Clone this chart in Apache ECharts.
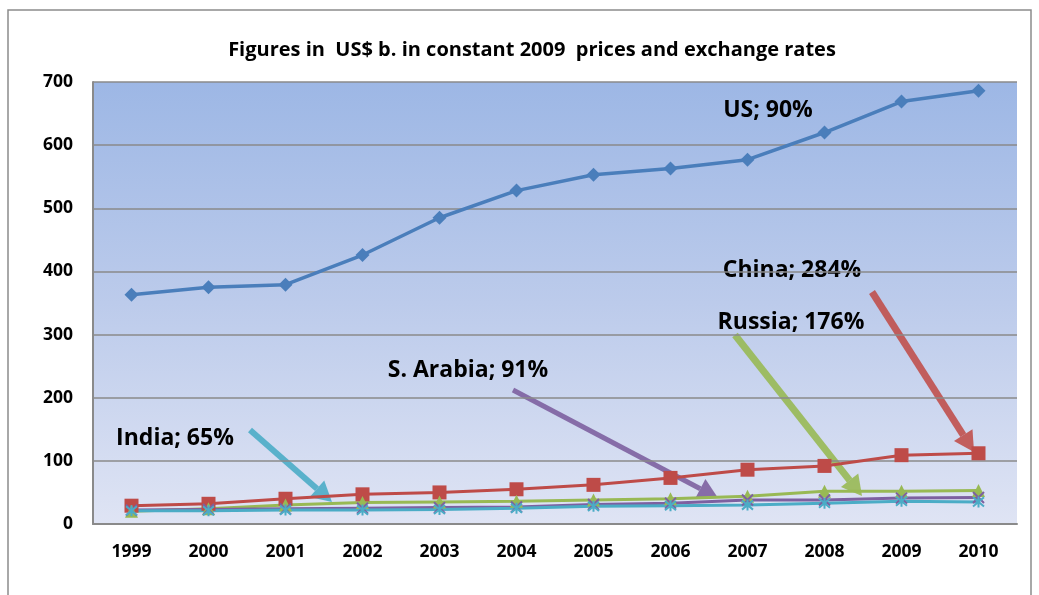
<!DOCTYPE html>
<html lang="en">
<head>
    <meta charset="utf-8">
    <title>Military spending 1999-2010</title>
    <script src="https://cdn.jsdelivr.net/npm/echarts@6/dist/echarts.min.js"></script>
    <style>
        html, body { margin: 0; padding: 0; background: #fff; }
        #chart { width: 1039px; height: 595px; }
    </style>
</head>
<body>
<div id="chart"></div>
<script type="text/javascript">
    // data (US$ b.)
    var years = ['1999', '2000', '2001', '2002', '2003', '2004', '2005', '2006', '2007', '2008', '2009', '2010'];
    var usValues = [363, 375, 379, 426, 485, 528, 553, 563, 577, 620, 669, 686];
    var chinaValues = [29, 32, 40, 47, 50, 55, 62, 73, 86, 92, 109, 112];
    var russiaValues = [20, 24, 30, 34, 35, 36, 38, 40, 44, 52, 52, 53];
    var arabiaValues = [22, 23, 24, 25, 26, 27, 31, 33, 38, 38, 41, 42];
    var indiaValues = [21, 21, 22, 22, 23, 25, 28, 29, 30, 33, 36, 35];
    var yTicks = [0, 100, 200, 300, 400, 500, 600, 700];

    var FONT = '"Open Sans", "Liberation Sans", sans-serif';
    var xMark = 'path://M0,0L10,10M10,0L0,10';
    var starMark = 'path://M0,0L10,10M10,0L0,10M5,-1L5,11';

    // annotation arrow: shaft + filled head
    function arrow(x1, y1, x2, y2, color, w) {
        var dx = x2 - x1, dy = y2 - y1;
        var len = Math.sqrt(dx * dx + dy * dy);
        var ux = dx / len, uy = dy / len;
        var head = 20, half = 11;
        var bx = x2 - ux * head, by = y2 - uy * head;
        return {
            type: 'group',
            children: [{
                type: 'line',
                shape: {x1: x1, y1: y1, x2: bx, y2: by},
                style: {stroke: color, lineWidth: w, opacity: 0.9}
            }, {
                type: 'polygon',
                shape: {points: [[x2, y2], [bx - uy * half, by + ux * half], [bx + uy * half, by - ux * half]]},
                style: {fill: color, opacity: 0.9}
            }]
        };
    }

    function label(text, cx, cy) {
        return {
            type: 'text',
            x: cx, y: cy,
            style: {
                text: text, fill: '#000', font: 'bold 23px ' + FONT,
                align: 'center', verticalAlign: 'middle'
            }
        };
    }

    function lineSeries(name, data, color, symbol, size, stroke, width) {
        return {
            name: name,
            type: 'line',
            data: data,
            symbol: symbol,
            symbolSize: size,
            showAllSymbol: true,
            lineStyle: {color: color, width: width || 3},
            itemStyle: {color: color, borderColor: color, borderWidth: stroke ? 2 : 0},
            z: 3
        };
    }

    var myChart = echarts.init(document.getElementById('chart'));
    var option = {
        backgroundColor: '#fff',
        animation: false,
        title: {
            text: 'Figures in  US$ b. in constant 2009  prices and exchange rates',
            left: 527, top: 35,
            textAlign: 'center',
            textStyle: {fontFamily: FONT, fontWeight: 'bold', fontSize: 20, color: '#000'}
        },
        grid: {
            left: 93, right: 22, top: 82, bottom: 71,
            show: true,
            borderWidth: 0,
            backgroundColor: {
                type: 'linear', x: 0, y: 0, x2: 0, y2: 1,
                colorStops: [{offset: 0, color: '#9db7e5'}, {offset: 0.5, color: '#bccbeb'}, {offset: 1, color: '#dfe4f4'}]
            }
        },
        xAxis: {
            type: 'category',
            data: years,
            boundaryGap: true,
            axisLine: {lineStyle: {color: '#8a8a8a', width: 2}},
            axisTick: {show: false},
            axisLabel: {
                margin: 19, color: '#000', fontFamily: FONT,
                fontWeight: 'bold', fontSize: 17.5
            }
        },
        yAxis: {
            type: 'value',
            min: yTicks[0], max: yTicks[yTicks.length - 1], interval: 100,
            axisLine: {show: true, lineStyle: {color: '#8a8a8a', width: 2}},
            axisTick: {show: false},
            splitLine: {lineStyle: {color: '#8a8a8a', width: 1.5}},
            axisLabel: {margin: 20, color: '#000', fontFamily: FONT, fontWeight: 'bold', fontSize: 17.5}
        },
        series: [
            lineSeries('US', usValues, '#4a7ebb', 'diamond', 14, false, 3.5),
            lineSeries('China', chinaValues, '#be4b48', 'rect', 14, false, 3),
            lineSeries('Russia', russiaValues, '#98b954', 'triangle', 13, false, 3),
            lineSeries('S. Arabia', arabiaValues, '#7d60a0', xMark, 11, true, 3),
            lineSeries('India', indiaValues, '#4bacc6', starMark, 11, true, 3)
        ],
        graphic: [
            {
                type: 'rect', silent: true,
                shape: {x: 8, y: 10, width: 1023, height: 600},
                style: {fill: 'none', stroke: '#8c8c8c', lineWidth: 1.5}
            },
            label('US; 90%', 768, 110),
            label('China; 284%', 792, 270),
            label('Russia; 176%', 791, 322),
            label('S. Arabia; 91%', 468, 370),
            label('India; 65%', 175, 438),
            arrow(250, 430, 332, 502, '#4bacc6', 6),
            arrow(513, 390, 718, 498, '#7d60a0', 5),
            arrow(735, 335, 862, 496, '#98b954', 7),
            arrow(872, 292, 974, 452, '#c0504d', 7)
        ]
    };
    myChart.setOption(option);
</script>
</body>
</html>
